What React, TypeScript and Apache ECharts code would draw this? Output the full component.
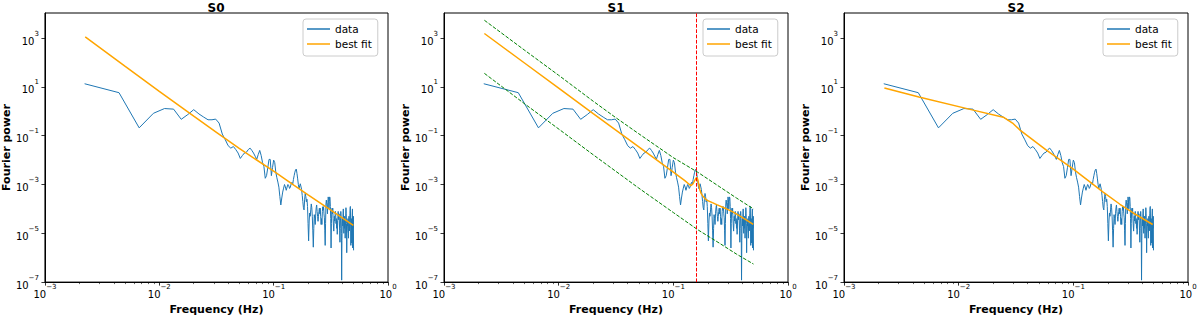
import React, { useEffect, useRef } from "react";
import * as echarts from "echarts";

// ---------- data ----------
const FREQ_STEP = 1 / 450; // Hz, spacing of the Fourier frequencies
const POWER: number[] = [
  13.5, 5.8, 0.21, 0.83, 1.3, 1.23, 0.47, 0.74, 1.17, 0.78,
  0.58, 0.45, 0.45, 0.48, 0.33, 0.117, 0.068, 0.039, 0.031, 0.036,
  0.027, 0.0195, 0.0117, 0.0155, 0.0195, 0.021, 0.027, 0.031, 0.025, 0.0195,
  0.0145, 0.0107, 0.017, 0.025, 0.0155, 0.0078, 0.0054, 0.0018, 0.0023, 0.0049,
  0.0107, 0.0107, 0.0023, 0.005, 0.01, 0.0079, 0.0032, 0.0019, 0.00126, 7.8e-4,
  3.2e-4, 1.45e-4, 2.8e-4, 4.9e-4, 7.1e-4, 1.0e-3, 7.9e-4, 5.8e-4, 7.9e-4, 1.0e-3,
  8.9e-4, 6.9e-4, 7.9e-4, 1.05e-3, 1.23e-3, 1.0e-3, 1.6e-3, 2.3e-3, 3.2e-3, 4.0e-3,
  4.3e-3, 2.8e-3, 1.7e-3, 1.0e-3, 6.8e-4, 8.9e-4, 1.07e-3, 1.07e-3, 6.3e-4, 3.6e-4,
  2.0e-4, 1.12e-4, 9.1e-5, 2.5e-4, 4.3e-4, 3.2e-4, 1.95e-4, 2.5e-4, 1.26e-4, 2.5e-5,
  4.9e-6, 3.2e-5, 6.8e-5, 5.0e-5, 9.1e-5, 1.6e-4, 1.12e-4, 5.0e-5, 1.26e-5, 2.7e-6,
  1.6e-5, 5.8e-5, 4.0e-5, 2.3e-5, 6.3e-5, 1.12e-4, 1.45e-4, 7.9e-5, 5.0e-5, 3.1e-5,
  5.0e-5, 7.9e-5, 1.07e-4, 6.3e-5, 1.07e-4, 5.0e-5, 2.3e-5, 4.0e-5, 2.3e-5, 7.9e-5,
  1.23e-4, 8.9e-5, 1.23e-4, 6.3e-5, 4.3e-5, 1.26e-5, 3.2e-6, 2.5e-5, 1.6e-4, 2.3e-4,
  2.3e-4, 1.26e-4, 6.3e-5, 1.8e-4, 3.1e-4, 2.5e-4, 1.0e-4, 2.0e-4, 3.1e-4, 2.8e-4,
  1.26e-4, 4.0e-5, 2.5e-6, 2.5e-5, 7.9e-5, 1.07e-4, 6.3e-5, 1.07e-4, 4.0e-5, 2.0e-5,
  1.23e-5, 2.5e-5, 5.0e-5, 3.2e-5, 5.8e-5, 7.9e-5, 5.8e-5, 2.5e-5, 4.0e-5, 1.6e-5,
  3.2e-5, 9.1e-6, 2.0e-5, 5.0e-5, 7.9e-5, 5.0e-5, 3.6e-5, 6.3e-5, 3.2e-5, 1.26e-5,
  4.3e-6, 1.6e-5, 4.0e-5, 7.9e-5, 5.0e-5, 1.0e-5, 1.2e-7, 5.0e-6, 2.5e-5, 4.0e-5,
  2.0e-5, 6.3e-5, 1.0e-4, 4.0e-5, 1.0e-5, 3.2e-5, 1.6e-5, 5.0e-5, 2.5e-5, 6.3e-6,
  2.0e-5, 4.0e-5, 1.12e-4, 6.3e-5, 2.5e-5, 1.6e-6, 1.0e-5, 1.26e-5, 3.2e-5, 2.0e-5,
  4.0e-5, 1.6e-5, 6.3e-6, 2.5e-5, 5.0e-5, 3.2e-5, 1.26e-5, 2.5e-5, 6.3e-5, 1.12e-4,
  1.26e-4, 3.2e-5, 3.2e-6, 1.6e-5, 4.0e-5, 1.26e-5, 4.0e-6, 2.0e-5, 6.3e-5, 1.0e-4,
  2.5e-6, 2.5e-5, 1.6e-5, 5.0e-5, 2.0e-6,
];

// best-fit model curves: [frequency (Hz), power]
const FIT_S0: [number, number][] = [
  [0.00225, 1120], [0.005, 71], [0.01, 6.6], [0.02, 0.63], [0.0316, 0.138],
  [0.05, 0.03], [0.1, 3.5e-3], [0.15, 9.5e-4], [0.2, 3.8e-4], [0.316, 8.9e-5],
  [0.498, 2.1e-5],
];
const FIT_S1: [number, number][] = [
  [0.00225, 1550], [0.005, 98], [0.01, 8.9], [0.02, 0.81], [0.05, 0.035],
  [0.1, 3.2e-3], [0.126, 1.45e-3], [0.138, 1.0e-3], [0.143, 9.1e-4], [0.148, 1.05e-3],
  [0.153, 1.4e-3], [0.1574, 1.8e-3], [0.16, 1.95e-3], [0.163, 1.66e-3], [0.1663, 1.05e-3],
  [0.17, 6.3e-4], [0.175, 4.2e-4], [0.182, 3.2e-4], [0.195, 2.3e-4], [0.219, 1.8e-4],
  [0.239, 1.5e-4], [0.282, 1.07e-4], [0.333, 7.4e-5], [0.398, 4.5e-5], [0.498, 2.3e-5],
];
const FIT_S2: [number, number][] = [
  [0.00225, 9.1], [0.0045, 3.9], [0.0134, 1.12], [0.0245, 0.575], [0.0295, 0.33],
  [0.0343, 0.17], [0.0586, 0.025], [0.1, 4.3e-3], [0.182, 4.9e-4], [0.255, 1.55e-4],
  [0.333, 6.8e-5], [0.492, 2.3e-5],
];
const UPPER_S1: [number, number][] = [
  [0.00225, 5400], [0.005, 330], [0.01, 30], [0.02, 2.6], [0.031, 0.58],
  [0.05, 0.12], [0.1, 0.0126], [0.163, 3.2e-3], [0.251, 8.3e-4], [0.355, 2.8e-4],
  [0.5, 1.0e-4],
];
const LOWER_S1: [number, number][] = [
  [0.00225, 36], [0.005, 2.1], [0.0103, 0.17], [0.02, 0.0166], [0.05, 7.1e-4],
  [0.1, 7.1e-5], [0.163, 1.41e-5], [0.251, 4.0e-6], [0.355, 1.41e-6], [0.5, 5.5e-7],
];
const QPO_FREQ = 0.16;

const PANEL_TITLES = ["S0", "S1", "S2"];
const FITS = [FIT_S0, FIT_S1, FIT_S2];
const X_MAJOR_EXP = [-3, -2, -1, 0];
const Y_MAJOR_EXP = [-7, -5, -3, -1, 1, 3];
const MINOR_MULT = [2, 3, 4, 5, 6, 7, 8, 9];
const Y_TOP_EXP = 4.03;

// ---------- styles ----------
const FONT = "DejaVu Sans";
const BLUE = "#1f77b4";
const ORANGE = "#ffa500";
const GREEN = "#008000";
const RED = "#ff0000";
const GRID_LEFTS = [44, 444, 844];
const GRID_W = 344;
const GRID_TOP = 13;
const GRID_H = 276;

const lg = (pts: [number, number][]) => pts.map(([f, p]) => [Math.log10(f), Math.log10(p)]);

const supLabel = (v: number) => {
  const e = Math.round(v);
  if (Math.abs(v - e) > 1e-6) return "";
  const es = e < 0 ? "\u2212" + Math.abs(e) : String(e);
  return `{b|10}{s|${es}}`;
};
const RICH = {
  b: { fontSize: 10, fontFamily: FONT, color: "#000", lineHeight: 16, verticalAlign: "bottom" },
  s: { fontSize: 7, fontFamily: FONT, color: "#000", lineHeight: 6, verticalAlign: "top" },
};

export default function App() {
  const ref = useRef<HTMLDivElement>(null);
  useEffect(() => {
    if (!ref.current) return;
    const chart = echarts.init(ref.current, null, { renderer: "svg" });
    const dataPts = POWER.map((p, i) => [Math.log10((i + 1) * FREQ_STEP), Math.log10(p)]);
    const xMinor: number[] = [];
    for (const e of [-3, -2, -1]) for (const m of MINOR_MULT) xMinor.push(Math.log10(m) + e);

    const grids: any[] = [];
    const xAxes: any[] = [];
    const yAxes: any[] = [];
    const series: any[] = [];
    const titles: any[] = [];
    const legends: any[] = [];
    const axisNameStyle = { fontSize: 11, fontWeight: "bold", fontFamily: FONT, color: "#000" };

    for (let p = 0; p < 3; p++) {
      grids.push({
        left: GRID_LEFTS[p], top: GRID_TOP, width: GRID_W, height: GRID_H,
        show: true, borderColor: "#000", borderWidth: 1, backgroundColor: "transparent",
      });
      titles.push({
        text: PANEL_TITLES[p], left: GRID_LEFTS[p] + GRID_W / 2, top: 2, textAlign: "center", padding: 0,
        textStyle: { fontSize: 12, fontWeight: "bold", fontFamily: FONT, color: "#000" },
      });
      xAxes.push({
        type: "value", gridIndex: p, min: -3, max: 0, interval: 1, position: "bottom",
        axisLine: { onZero: false, lineStyle: { color: "#000", width: 1 } },
        axisTick: { show: true, inside: false, length: 3.5, customValues: X_MAJOR_EXP, lineStyle: { color: "#000", width: 0.8 } },
        axisLabel: { formatter: supLabel, rich: RICH, margin: 1, customValues: X_MAJOR_EXP, showMinLabel: true, showMaxLabel: true, hideOverlap: false },
        splitLine: { show: false },
        name: "Frequency (Hz)", nameLocation: "middle", nameGap: 16, nameTextStyle: axisNameStyle,
      });
      xAxes.push({
        type: "value", gridIndex: p, min: -3, max: 0, position: "bottom",
        axisLine: { show: false, onZero: false },
        axisTick: { show: true, inside: false, length: 2, customValues: xMinor, lineStyle: { color: "#000", width: 0.6 } },
        axisLabel: { show: false },
        splitLine: { show: false },
      });
      yAxes.push({
        type: "value", gridIndex: p, min: -7, max: Y_TOP_EXP, interval: 2, position: "left",
        axisLine: { onZero: false, lineStyle: { color: "#000", width: 1 } },
        axisTick: { show: true, inside: false, length: 3.5, customValues: Y_MAJOR_EXP, lineStyle: { color: "#000", width: 0.8 } },
        axisLabel: { formatter: supLabel, rich: RICH, margin: 6, customValues: Y_MAJOR_EXP },
        splitLine: { show: false },
        name: "Fourier power", nameLocation: "middle", nameGap: 29, nameRotate: 90, nameTextStyle: axisNameStyle,
      });
      series.push({
        name: "data", type: "line", xAxisIndex: p * 2, yAxisIndex: p, data: dataPts,
        showSymbol: false, symbol: "none", z: 2,
        lineStyle: { color: BLUE, width: 1 }, itemStyle: { color: BLUE },
      });
      series.push({
        name: "best fit", type: "line", xAxisIndex: p * 2, yAxisIndex: p, data: lg(FITS[p]),
        showSymbol: false, symbol: "none", z: 3, smooth: false,
        lineStyle: { color: ORANGE, width: 1.5 }, itemStyle: { color: ORANGE },
      });
      if (p === 1) {
        series.push({
          name: "upper", type: "line", xAxisIndex: 2, yAxisIndex: 1, data: lg(UPPER_S1),
          showSymbol: false, symbol: "none", z: 4,
          lineStyle: { color: GREEN, width: 1, type: [3.7, 1.6] }, itemStyle: { color: GREEN },
        });
        series.push({
          name: "lower", type: "line", xAxisIndex: 2, yAxisIndex: 1, data: lg(LOWER_S1),
          showSymbol: false, symbol: "none", z: 4,
          lineStyle: { color: GREEN, width: 1, type: [3.7, 1.6] }, itemStyle: { color: GREEN },
          markLine: {
            silent: true, symbol: ["none", "none"], label: { show: false },
            lineStyle: { color: RED, width: 1, type: [3.7, 1.6] },
            emphasis: { disabled: true },
            data: [{ xAxis: Math.log10(QPO_FREQ) }],
          },
        });
      }
      legends.push({
        data: ["data", "best fit"], orient: "vertical", left: GRID_LEFTS[p] + 259, top: 19,
        icon: "rect", itemWidth: 23, itemHeight: 1.5, itemGap: 3, padding: [4, 6, 6, 4],
        borderColor: "#cccccc", borderWidth: 1, borderRadius: 3, backgroundColor: "rgba(255,255,255,0.8)",
        textStyle: { fontSize: 10.5, fontFamily: FONT, color: "#000", lineHeight: 12 },
        selectedMode: false,
      });
    }

    chart.setOption({
      animation: false,
      textStyle: { fontFamily: FONT },
      title: titles,
      legend: legends,
      grid: grids,
      xAxis: xAxes,
      yAxis: yAxes,
      series,
    });
    return () => chart.dispose();
  }, []);
  return (
    <div
      ref={ref}
      style={{ position: "absolute", left: 0, top: 0, width: 1200, height: 320, background: "#fff" }}
    />
  );
}
